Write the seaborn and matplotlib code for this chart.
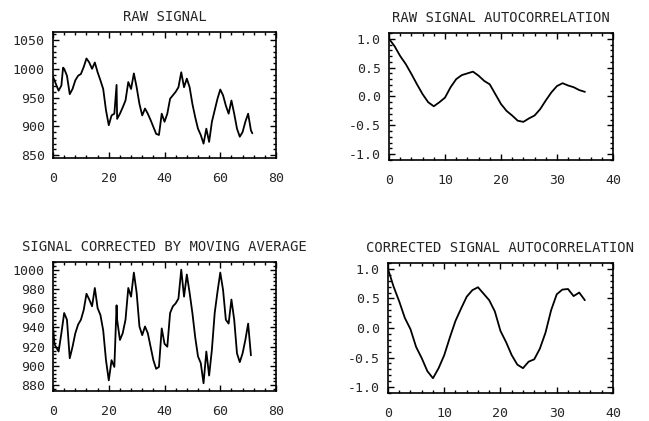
import numpy as np
import pandas as pd
import seaborn as sns
import matplotlib.pyplot as plt
from matplotlib.ticker import AutoMinorLocator, FormatStrFormatter

# Raw signal (x = sample index)
raw_x = [0, 1, 2, 3, 3.6, 4, 5, 6, 7, 8, 9, 10, 11, 12, 13, 14, 15, 16, 17, 18,
         19, 20, 21, 22, 22.8, 23, 24, 25, 26, 27, 28, 29, 30, 31, 32, 33, 34, 35,
         36, 37, 38, 39, 40, 41, 42, 43, 44, 45, 46, 47, 48, 49, 50, 51, 52, 53,
         54, 55, 56, 57, 58, 59, 60, 61, 62, 63, 64, 65, 66, 67, 68, 69, 70, 71, 71.5]
raw_y = [986, 974, 962, 971, 1002, 1000, 988, 956, 965, 980, 988, 991, 1003, 1018,
         1011, 1000, 1011, 994, 980, 965, 928, 902, 919, 922, 972, 913, 922, 933, 945,
         977, 965, 992, 968, 939, 919, 931, 922, 911, 899, 887, 885, 922, 908, 922, 948,
         954, 960, 968, 994, 968, 983, 968, 939, 916, 896, 885, 870, 896, 873, 908, 928,
         948, 964, 954, 936, 922, 945, 922, 896, 882, 890, 908, 922, 893, 888]

# Signal corrected by moving average
cor_x = [0, 0.5, 1, 2, 3, 4, 5, 6, 7, 8, 9, 10, 11, 12, 13, 14, 15, 16, 17, 18, 19,
         20, 21, 22, 22.8, 23, 24, 25, 26, 27, 28, 29, 30, 31, 32, 33, 34, 35, 36, 37,
         38, 39, 40, 41, 42, 43, 44, 45, 46, 47, 48, 49, 50, 51, 52, 53, 54, 55, 56,
         57, 58, 59, 60, 61, 62, 63, 64, 65, 66, 67, 68, 69, 70, 71]
cor_y = [941, 923, 920, 915, 934, 955, 948, 908, 920, 934, 943, 948, 958, 975, 969,
         962, 981, 960, 953, 937, 906, 885, 906, 899, 963, 948, 927, 934, 948, 981, 972,
         997, 976, 941, 932, 941, 934, 920, 906, 897, 899, 939, 923, 920, 955, 962, 965,
         970, 1000, 972, 995, 976, 955, 930, 910, 903, 882, 915, 890, 917, 955, 977, 997,
         979, 948, 944, 969, 948, 913, 904, 913, 927, 944, 911]

# Autocorrelations (lag 0..35)
lags = list(range(36))
raw_acf = [1.0, 0.87, 0.70, 0.56, 0.39, 0.21, 0.04, -0.10, -0.17, -0.10, -0.02, 0.16,
           0.30, 0.37, 0.40, 0.43, 0.36, 0.27, 0.21, 0.04, -0.13, -0.25, -0.33, -0.42,
           -0.44, -0.38, -0.33, -0.22, -0.07, 0.07, 0.18, 0.23, 0.19, 0.16, 0.11, 0.08]
cor_acf = [1.0, 0.70, 0.45, 0.17, -0.02, -0.32, -0.51, -0.73, -0.85, -0.68, -0.46,
           -0.16, 0.12, 0.33, 0.53, 0.64, 0.69, 0.58, 0.47, 0.28, -0.05, -0.24, -0.46,
           -0.62, -0.68, -0.57, -0.53, -0.35, -0.08, 0.30, 0.57, 0.65, 0.66, 0.54, 0.60,
           0.47]

sns.set_theme(style="ticks")
plt.rcParams['font.family'] = ['DejaVu Sans Mono']
plt.rcParams['axes.unicode_minus'] = False

fig = plt.figure(figsize=(6.49, 4.21), dpi=100)
fig.patch.set_facecolor('white')

panels = [
    # rect, x, y, title, xlim, ylim, xticks, yticks, fmt
    ([0.0817, 0.6247, 0.3436, 0.2993], raw_x, raw_y, 'RAW SIGNAL',
     (0, 80), (845, 1064), [0, 20, 40, 60, 80], [850, 900, 950, 1000, 1050], '%d'),
    ([0.5994, 0.6200, 0.3450, 0.3017], lags, raw_acf, 'RAW SIGNAL AUTOCORRELATION',
     (0, 40), (-1.1, 1.1), [0, 10, 20, 30, 40], [-1.0, -0.5, 0.0, 0.5, 1.0], '%.1f'),
    ([0.0817, 0.0713, 0.3436, 0.3064], cor_x, cor_y, 'SIGNAL CORRECTED BY MOVING AVERAGE',
     (0, 80), (874, 1008), [0, 20, 40, 60, 80], [880, 900, 920, 940, 960, 980, 1000], '%d'),
    ([0.5978, 0.0665, 0.3467, 0.3088], lags, cor_acf, 'CORRECTED SIGNAL AUTOCORRELATION',
     (0, 40), (-1.1, 1.1), [0, 10, 20, 30, 40], [-1.0, -0.5, 0.0, 0.5, 1.0], '%.1f'),
]

for rect, xs, ys, title, xlim, ylim, xticks, yticks, fmt in panels:
    ax = fig.add_axes(rect)
    df = pd.DataFrame({'x': xs, 'y': ys})
    sns.lineplot(data=df, x='x', y='y', ax=ax, color='black', linewidth=1.3,
                 sort=False, estimator=None)
    ax.set_xlim(*xlim)
    ax.set_ylim(*ylim)
    ax.set_xticks(xticks)
    ax.set_yticks(yticks)
    ax.yaxis.set_major_formatter(FormatStrFormatter(fmt))
    ax.xaxis.set_minor_locator(AutoMinorLocator(5))
    ax.yaxis.set_minor_locator(AutoMinorLocator(5))
    ax.tick_params(which='both', direction='in', top=True, right=True,
                   color='black', width=1.0)
    ax.tick_params(which='major', length=4)
    ax.tick_params(which='minor', length=2)
    ax.tick_params(axis='x', which='major', pad=10, labelsize=9.5)
    ax.tick_params(axis='y', which='major', pad=6, labelsize=9.5)
    for s in ax.spines.values():
        s.set_linewidth(1.2)
        s.set_color('black')
    ax.set_xlabel('')
    ax.set_ylabel('')
    ax.set_title(title, fontsize=10, pad=8)

fig.savefig('out.png', dpi=100, facecolor='white')
